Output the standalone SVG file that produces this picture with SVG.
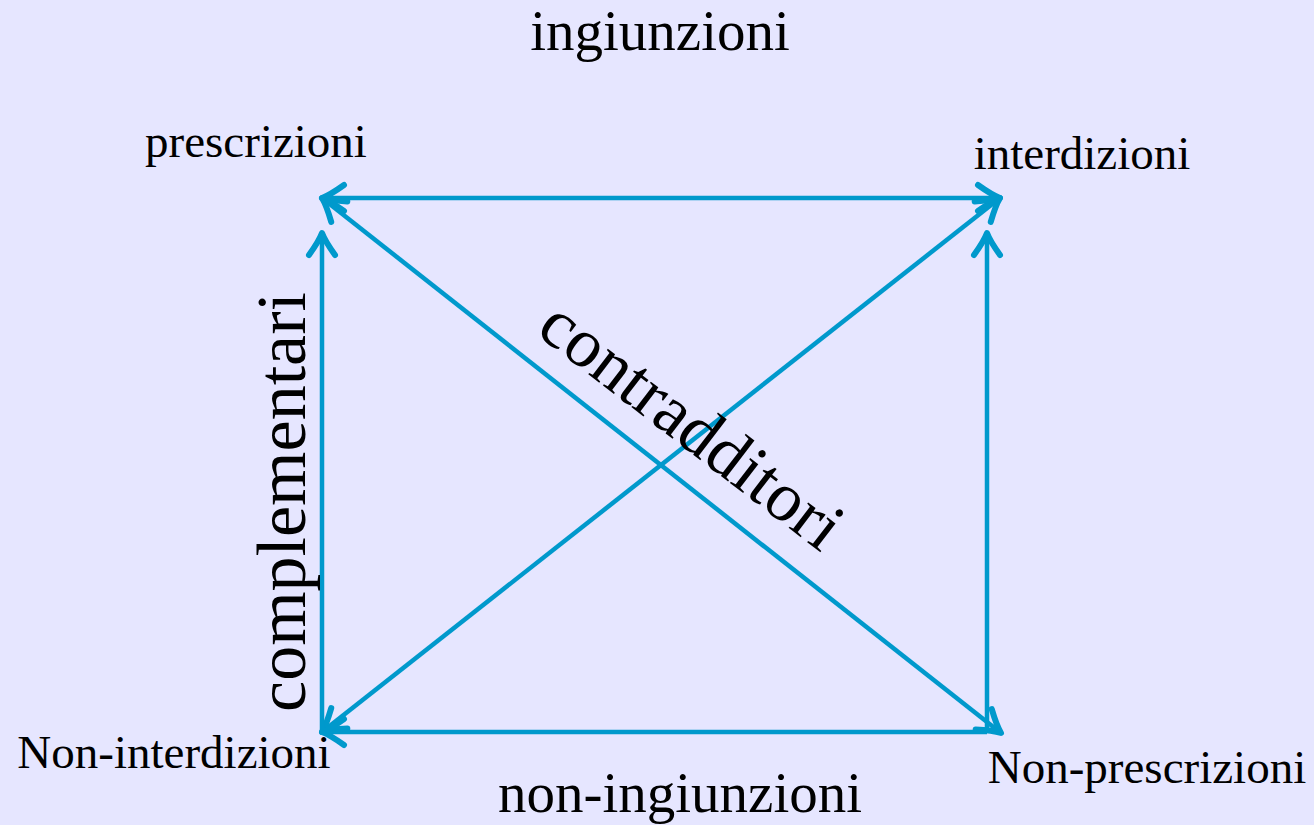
<svg xmlns="http://www.w3.org/2000/svg" width="1314" height="825" viewBox="0 0 1314 825">
  <style>
    .lbl { font-family: "Liberation Serif", "Times New Roman", serif; fill: #000; }
    .sm { font-size: 47px; }
    .md { font-size: 57px; }
    .lg { font-size: 70px; }
    .conn { stroke: #0099CC; stroke-width: 4.5; fill: none; }
  </style>
  <defs>
    <marker id="arr" markerUnits="userSpaceOnUse" viewBox="-30 -20 40 40" markerWidth="40" markerHeight="40" refX="0" refY="0" orient="auto-start-reverse">
      <path d="M -22,-13 Q -8,-3 0,0 Q -8,3 -22,13" stroke="#0099CC" stroke-width="6" fill="none" stroke-linecap="round" stroke-linejoin="round"/>
    </marker>
  </defs>
  <rect width="1314" height="825" fill="#E6E6FF"/>
  <g id="connectors">
    <line class="conn" x1="322" y1="198" x2="1000" y2="198" marker-start="url(#arr)" marker-end="url(#arr)"/>
    <line class="conn" x1="322" y1="198" x2="1001" y2="733" marker-start="url(#arr)" marker-end="url(#arr)"/>
    <line class="conn" x1="1000" y1="198" x2="322" y2="732" marker-start="url(#arr)" marker-end="url(#arr)"/>
    <line class="conn" x1="322" y1="732" x2="322" y2="233" marker-end="url(#arr)"/>
    <line class="conn" x1="987" y1="732" x2="987" y2="233" marker-end="url(#arr)"/>
    <line class="conn" x1="987" y1="732" x2="322" y2="732" marker-end="url(#arr)"/>
  </g>
  <g id="title-top"><text class="lbl md" x="660" y="50" text-anchor="middle">ingiunzioni</text></g>
  <g id="title-bottom"><text class="lbl md" x="680" y="812" text-anchor="middle">non-ingiunzioni</text></g>
  <g id="node-prescrizioni"><text class="lbl sm" x="256" y="157" text-anchor="middle">prescrizioni</text></g>
  <g id="node-interdizioni"><text class="lbl sm" x="1082" y="169" text-anchor="middle">interdizioni</text></g>
  <g id="node-non-interdizioni"><text class="lbl sm" x="174" y="768" text-anchor="middle">Non-interdizioni</text></g>
  <g id="node-non-prescrizioni"><text class="lbl sm" x="1147" y="783" text-anchor="middle">Non-prescrizioni</text></g>
  <g id="label-complementari"><text class="lbl lg" transform="translate(305,502) rotate(-90)" text-anchor="middle">complementari</text></g>
  <g id="label-contradditori"><text class="lbl lg" transform="translate(678,443) rotate(37.5)" text-anchor="middle">contradditori</text></g>
</svg>
